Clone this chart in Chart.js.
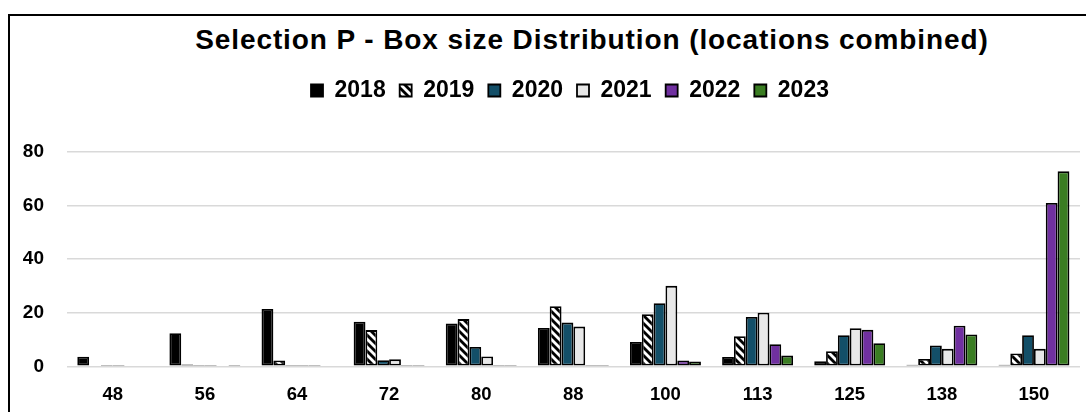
<!DOCTYPE html>
<html>
<head>
<meta charset="utf-8">
<script src="https://cdn.jsdelivr.net/npm/chart.js@4"></script>
<style>
  html, body { margin: 0; padding: 0; background: #fff; overflow: hidden; }
  #frame { position: absolute; left: 8px; top: 14px; width: 2000px; height: 2000px;
           border-left: 2px solid #000; border-top: 2px solid #000; }
  #title { position: absolute; left: 92px; width: 1000px; top: 25.6px; text-align: center;
           font: bold 28px "Liberation Sans", Arial, sans-serif; line-height: 28px;
           letter-spacing: 0.9px; color: #000; white-space: nowrap; }
  #wrap { position: absolute; left: 0; top: 0; width: 1086px; height: 412px; }
</style>
</head>
<body>
<div id="frame"></div>
<div id="title">Selection P - Box size Distribution (locations combined)</div>
<div id="wrap"><canvas id="c" width="1086" height="412"></canvas></div>
<script>
const categories = ['48', '56', '64', '72', '80', '88', '100', '113', '125', '138', '150'];
const seriesNames = ['2018', '2019', '2020', '2021', '2022', '2023'];
const v2018 = [3.6, 12.3, 21.4, 16.6, 16.0, 14.3, 9.1, 3.5, 1.9, 0.6, 0.6];
const v2019 = [0, 0.7, 2.2, 13.5, 17.6, 22.4, 19.4, 11.2, 5.6, 2.7, 4.8];
const v2020 = [0.5, 0.5, 0.5, 2.3, 7.2, 16.3, 23.5, 18.4, 11.6, 7.8, 11.6];
const v2021 = [0.5, 0.5, 0.5, 2.6, 3.7, 14.8, 30.0, 20.0, 14.2, 6.5, 6.5];
const v2022 = [0, 0, 0.5, 0.5, 0.5, 0.5, 2.2, 8.2, 13.6, 15.1, 60.9];
const v2023 = [0, 0.5, 0, 0.5, 0.5, 0.5, 1.8, 4.0, 8.6, 11.9, 72.7];
const yMin = 0, yMax = 80, yStep = 20;

function stripePattern() {
  const s = 8;
  const cv = document.createElement('canvas');
  cv.width = s; cv.height = s;
  const g = cv.getContext('2d');
  g.fillStyle = '#fff';
  g.fillRect(0, 0, s, s);
  g.strokeStyle = '#000';
  g.lineWidth = 2.8;
  for (let k = -1; k <= 1; k++) {
    g.beginPath();
    g.moveTo(k * s - 1, -1);
    g.lineTo(k * s + s + 1, s + 1);
    g.stroke();
  }
  return document.getElementById('c').getContext('2d').createPattern(cv, 'repeat');
}

const fills = ['#000000', stripePattern(), '#134f68', '#e8e8e8', '#7030a0', '#3a7d22'];
const values = [v2018, v2019, v2020, v2021, v2022, v2023];

const datasets = seriesNames.map((n, i) => ({
  label: n,
  data: values[i],
  backgroundColor: fills[i],
  borderColor: '#000',
  borderWidth: 1.8,
  borderSkipped: false,
  categoryPercentage: 0.77,
  barPercentage: 1.0
}));

const legendPlace = {
  id: 'legendPlace',
  beforeInit(chart) {
    const orig = chart.legend.fit;
    chart.legend.fit = function () {
      orig.call(this);
      this.height = 86.8;
    };
  },
  afterLayout(chart) {
    chart.legend.left = 60;
    chart.legend.right = 1080;
  }
};

new Chart(document.getElementById('c'), {
  type: 'bar',
  data: { labels: categories, datasets },
  plugins: [legendPlace],
  options: {
    responsive: false,
    animation: false,
    events: [],
    layout: { padding: { left: 0, right: 6, top: 65, bottom: 0 } },
    plugins: {
      title: { display: false },
      tooltip: { enabled: false },
      legend: {
        display: true,
        position: 'top',
        labels: {
          boxWidth: 12,
          boxHeight: 12,
          padding: 14,
          color: '#000',
          font: { family: '"Liberation Sans", Arial, sans-serif', size: 23, weight: 'bold' }
        }
      }
    },
    scales: {
      x: {
        grid: { display: false },
        border: { display: false },
        ticks: {
          color: '#000',
          padding: 10,
          maxRotation: 0,
          font: { family: '"Liberation Sans", Arial, sans-serif', size: 18.5, weight: 'bold' }
        },
        afterFit(scale) { scale.height = 412 - 366.3; }
      },
      y: {
        min: yMin,
        max: yMax,
        grid: { color: '#d9d9d9', lineWidth: 1.5, drawTicks: false },
        border: { display: false },
        ticks: {
          stepSize: yStep,
          color: '#000',
          padding: 22.7,
          font: { family: '"Liberation Sans", Arial, sans-serif', size: 19, weight: 'bold' }
        },
        afterFit(scale) { scale.width = 66.7; }
      }
    }
  }
});
</script>
</body>
</html>
